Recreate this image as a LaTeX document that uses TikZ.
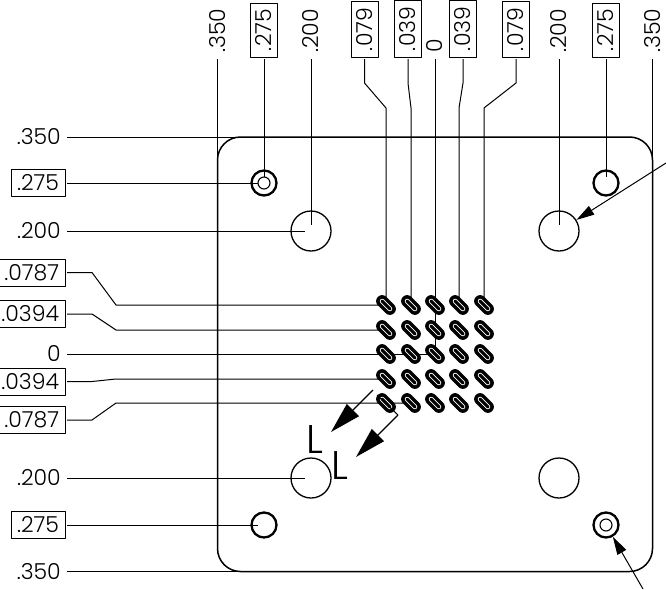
\documentclass[tikz,border=0pt]{standalone}
\usepackage{fontspec}
\setmainfont{Poppins Light}
\usetikzlibrary{arrows.meta,shapes.misc}
\tikzset{
	leader/.style={line width=1pt},
	dimlabel/.style={inner xsep=6pt,inner ysep=0pt,minimum height=27pt,font=\fontsize{22}{22}\selectfont},
	dimleft/.style={dimlabel,anchor=east},
	dimtop/.style={dimlabel,anchor=west,rotate=90},
	dimbox/.style={draw,line width=1pt,outer sep=2pt},
	hole/.style={circle,draw,line width=1.3pt,inner sep=0pt,minimum size=40pt},
	pin/.style={circle,draw,line width=2.3pt,inner sep=0pt,minimum size=25pt},
	pinbore/.style={circle,draw,line width=1.1pt,inner sep=0pt,minimum size=12pt},
	slot/.style={rounded rectangle,fill=black,inner sep=0pt,minimum width=23pt,minimum height=12pt,rotate=-45},
	slotcore/.style={rounded rectangle,draw=white,fill=black,line width=.7pt,inner sep=0pt,minimum width=15pt,minimum height=4pt,rotate=-45},
	bigtip/.style={-{Triangle[length=31pt,width=17pt]},line width=1.2pt},
	smalltip/.style={-{Triangle[length=18pt,width=10pt]},line width=1pt}
}
\begin{document}
\begin{tikzpicture}[x=1pt,y=-1pt,line join=round]
	\useasboundingbox (0,0) rectangle (666,589);
	%plate
	\draw[line width=1.5pt,rounded corners=23pt] (217.5,137) rectangle (652.5,571.5);
	%holes
	\node[pin] (pinUL) at (264,183) {};
	\node[pin] (pinUR) at (606,183) {};
	\node[pin] (pinLL) at (264,525) {};
	\node[pin] (pinLR) at (606,525) {};
	\node[pinbore] at (pinUL) {};
	\node[pinbore] at (pinLR) {};
	\node[hole] (holeUL) at (311,231) {};
	\node[hole] (holeUR) at (559,231) {};
	\node[hole] (holeLL) at (311,478) {};
	\node[hole] (holeLR) at (559,478) {};
	%slots
	\foreach \i/\y in {1/305,2/330,3/354,4/379,5/403}
		\foreach \j/\x in {1/386,2/411,3/435,4/459,5/484}
			\node[slot] (s\i\j) at (\x,\y) {};
	%top labels
	\node[dimtop] (topA) at (217.5,59) {.350};
	\node[dimtop,dimbox] (topB) at (264,59) {.275};
	\node[dimtop] (topC) at (311,59) {.200};
	\node[dimtop,dimbox] (topD) at (364.5,59) {.079};
	\node[dimtop,dimbox] (topE) at (408,59) {.039};
	\node[dimtop] (topF) at (435,59) {0};
	\node[dimtop,dimbox] (topG) at (463,59) {.039};
	\node[dimtop,dimbox] (topH) at (516,59) {.079};
	\node[dimtop] (topI) at (559,59) {.200};
	\node[dimtop,dimbox] (topJ) at (606,59) {.275};
	\node[dimtop] (topK) at (652.5,59) {.350};
	%left labels
	\node[dimleft] (leftA) at (67,137) {.350};
	\node[dimleft,dimbox] (leftB) at (67,183) {.275};
	\node[dimleft] (leftC) at (67,231) {.200};
	\node[dimleft,dimbox] (leftD) at (67,272.5) {.0787};
	\node[dimleft,dimbox] (leftE) at (67,314) {.0394};
	\node[dimleft] (leftF) at (67,354) {0};
	\node[dimleft,dimbox] (leftG) at (67,381.5) {.0394};
	\node[dimleft,dimbox] (leftH) at (67,420) {.0787};
	\node[dimleft] (leftI) at (67,478) {.200};
	\node[dimleft,dimbox] (leftJ) at (67,525) {.275};
	\node[dimleft] (leftK) at (67,571.5) {.350};
	%leaders from the top
	\coordinate (edgeT) at (240,137);
	\coordinate (edgeL) at (217.5,160);
	\coordinate (edgeR) at (652.5,160);
	\coordinate (edgeB) at (240,571.5);
	\draw[leader] (topA.west)--(edgeL);
	\draw[leader,shorten >=6pt] (topB.west)--(pinUL.center);
	\draw[leader,shorten >=6pt] (topC.west)--(holeUL.center);
	\draw[leader] (topD.west)--++(0,24)--(s11 |- 0,108)--(s11.center);
	\draw[leader] (topE.west)--++(0,24)--(s12 |- 0,108)--(s12.center);
	\draw[leader] (topF.west)--(s33.center);
	\draw[leader] (topG.west)--++(0,24)--(s14 |- 0,108)--(s14.center);
	\draw[leader] (topH.west)--++(0,24)--(s15 |- 0,108)--(s15.center);
	\draw[leader,shorten >=6pt] (topI.west)--(holeUR.center);
	\draw[leader,shorten >=6pt] (topJ.west)--(pinUR.center);
	\draw[leader] (topK.west)--(edgeR);
	%leaders from the left
	\draw[leader] (leftA.east)--(edgeT);
	\draw[leader,shorten >=6pt] (leftB.east)--(pinUL.center);
	\draw[leader,shorten >=6pt] (leftC.east)--(holeUL.center);
	\draw[leader] (leftD.east)--++(25,0)--(116,305)--(s11.center);
	\draw[leader] (leftE.east)--++(25,0)--(116,330)--(s21.center);
	\draw[leader] (leftF.east)--(s33.center);
	\draw[leader] (leftG.east)--++(25,0)--(116,379)--(s41.center);
	\draw[leader] (leftH.east)--++(25,0)--(116,403)--(s52.center);
	\draw[leader,shorten >=6pt] (leftI.east)--(holeLL.center);
	\draw[leader,shorten >=6pt] (leftJ.east)--(pinLL.center);
	\draw[leader] (leftK.east)--(edgeB);
	%slot centres go over the leaders
	\foreach \i in {1,...,5}
		\foreach \j in {1,...,5}
			\node[slotcore] at (s\i\j) {};
	%slot length L
	\coordinate (widthA) at (373,390);
	\coordinate (tipA) at (331,432);
	\coordinate (widthB) at (377,395);
	\coordinate (cornerB) at (398,415);
	\coordinate (tipB) at (356,457);
	\draw[bigtip] (widthA)--(tipA);
	\draw[leader] (widthB)--(cornerB);
	\draw[bigtip] (cornerB)--(tipB);
	\node[font=\fontsize{40}{40}\selectfont,inner sep=0pt] (lenA) at (314.5,440) {L};
	\node[font=\fontsize{40}{40}\selectfont,inner sep=0pt] (lenB) at (339.5,466) {L};
	%callouts
	\coordinate (tailR) at (666,163);
	\coordinate (tailS) at (643,589);
	\draw[smalltip] (tailR)--(holeUR);
	\draw[smalltip] (tailS)--(pinLR);
\end{tikzpicture}
\end{document}
